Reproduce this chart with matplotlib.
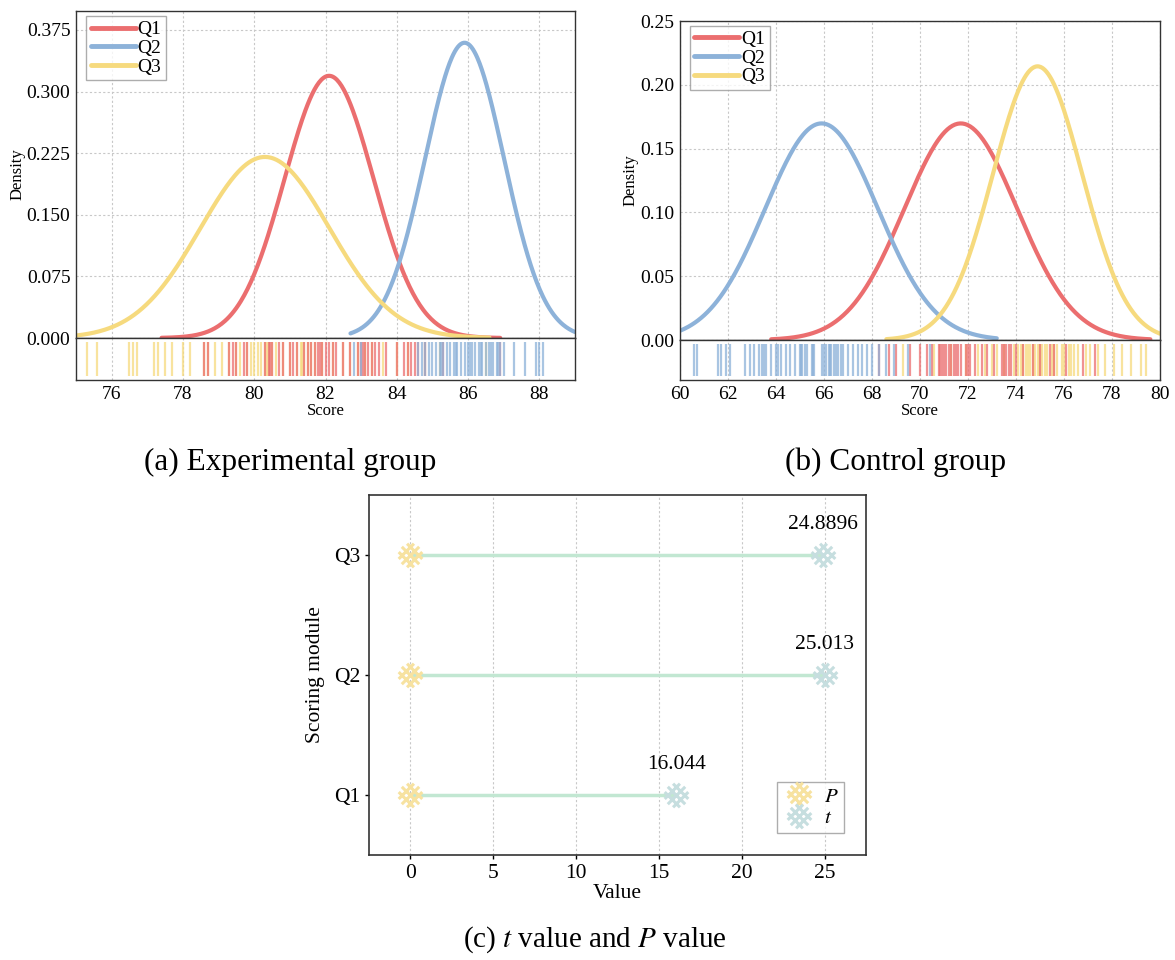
import numpy as np
import matplotlib.pyplot as plt
from matplotlib.path import Path
from matplotlib.lines import Line2D

plt.rcParams['font.family'] = ['Liberation Serif', 'DejaVu Serif']
plt.rcParams['mathtext.fontset'] = 'stix'

# === Data ===
groups = ['Q1', 'Q2', 'Q3']
colors = ['#EB6E6F', '#8DB2D9', '#F6DA7E']

# (a) Experimental group: fitted normal curves (mean, sd, drawn range)
exp_mean = [82.1, 85.9, 80.3]
exp_sd = [1.25, 1.11, 1.81]
exp_lo = [77.4, 82.7, 75.0]
exp_hi = [86.9, 89.0, 86.6]

exp_rug_q1 = [78.6, 78.7, 79.3, 79.4, 79.5, 79.7, 79.8, 80.3, 80.4, 80.45, 80.5, 80.7,
              80.8, 81.0, 81.1, 81.2, 81.4, 81.5, 81.6, 81.7, 81.8, 81.85, 81.9, 82.0,
              82.1, 82.2, 82.3, 82.5, 82.7, 82.9, 83.0, 83.05, 83.1, 83.2, 83.3, 83.4,
              83.5, 83.7, 84.0, 84.2, 84.3, 84.4, 84.5, 84.6, 84.8, 85.3, 86.9]
exp_rug_q2 = [82.8, 83.0, 84.6, 84.7, 84.8, 84.9, 85.0, 85.1, 85.2, 85.25, 85.3, 85.4,
              85.5, 85.6, 85.65, 85.7, 85.8, 85.9, 86.0, 86.05, 86.1, 86.2, 86.3, 86.35,
              86.4, 86.5, 86.6, 86.65, 86.7, 86.8, 86.85, 86.9, 87.0, 87.3, 87.6, 87.9,
              88.0, 88.1]
exp_rug_q3 = [75.3, 75.6, 76.5, 76.6, 76.7, 77.2, 77.3, 77.5, 77.7, 78.0, 78.2, 78.6,
              78.7, 78.9, 79.1, 79.3, 79.5, 79.6, 79.8, 79.9, 80.0, 80.1, 80.2, 80.3,
              80.35, 80.4, 80.5, 80.6, 80.8, 81.0, 81.2, 81.3, 81.35, 81.4, 81.5, 81.6,
              81.7, 81.9, 82.2, 82.5, 82.7, 82.9, 83.1, 83.3, 83.6, 84.0, 84.3, 84.8,
              85.2, 86.5]

# (b) Control group
ctl_mean = [71.7, 65.9, 74.9]
ctl_sd = [2.35, 2.35, 1.86]
ctl_lo = [63.8, 60.0, 68.6]
ctl_hi = [79.6, 73.2, 80.0]

ctl_rug_q1 = [68.3, 68.7, 69.0, 69.6, 70.0, 70.3, 70.5, 70.8, 70.85, 70.9, 71.0, 71.1,
              71.2, 71.3, 71.4, 71.5, 71.6, 71.7, 71.9, 72.0, 72.1, 72.3, 72.6, 72.8,
              73.1, 73.4, 73.5, 73.6, 73.7, 73.8, 74.0, 74.3, 74.7, 75.0, 75.4, 75.6,
              76.1, 76.8, 77.3]
ctl_rug_q2 = [60.6, 60.7, 61.6, 61.7, 61.9, 62.1, 62.7, 62.9, 63.1, 63.3, 63.4, 63.5,
              63.6, 63.8, 64.0, 64.1, 64.2, 64.4, 64.6, 64.8, 65.0, 65.05, 65.1, 65.2,
              65.3, 65.5, 65.55, 65.6, 65.9, 66.0, 66.1, 66.2, 66.25, 66.3, 66.4, 66.5,
              66.6, 66.7, 66.8, 67.0, 67.2, 67.4, 67.6, 67.8, 68.0, 68.3, 68.6, 68.9,
              69.5, 70.4]
ctl_rug_q3 = [69.3, 70.6, 71.3, 71.9, 72.4, 72.7, 73.0, 73.2, 73.5, 73.9, 74.1, 74.2,
              74.3, 74.4, 74.5, 74.6, 74.7, 74.8, 74.9, 75.0, 75.1, 75.2, 75.3, 75.5,
              75.6, 75.7, 75.9, 76.0, 76.2, 76.3, 76.4, 76.6, 76.9, 77.1, 77.4, 77.7,
              78.1, 78.4, 78.8, 79.2, 79.4]

# (c) t value and P value
modules = ['Q1', 'Q2', 'Q3']
p_vals = [0, 0, 0]
t_vals = [16.044, 25.013, 24.8896]
t_text = ['16.044', '25.013', '24.8896']

fig = plt.figure(figsize=(11.75, 9.6), dpi=100)


def lattice_marker(c=0.68):
    # cross-hatched lattice (3 lines each diagonal) inside a unit circle
    verts, codes = [], []
    for s in (1, -1):
        for off in (-c, 0.0, c):
            a, b = 2.0, 2 * s * off
            disc = b * b - 4 * a * (off * off - 1)
            x1 = (-b - np.sqrt(disc)) / (2 * a)
            x2 = (-b + np.sqrt(disc)) / (2 * a)
            verts += [(x1, s * x1 + off), (x2, s * x2 + off)]
            codes += [Path.MOVETO, Path.LINETO]
    return Path(verts, codes)


def density_panel(rect_main, rect_rug, means, sds, lo, hi, rugs, xlim, ylim,
                  xticks, yticks, yfmt):
    ax = fig.add_axes(rect_main)
    axr = fig.add_axes(rect_rug, sharex=ax)
    for i in range(3):
        x = np.linspace(lo[i], hi[i], 300)
        y = np.exp(-0.5 * ((x - means[i]) / sds[i]) ** 2) / (sds[i] * np.sqrt(2 * np.pi))
        ax.plot(x, y, color=colors[i], lw=3, label=groups[i], solid_capstyle='round')
    for i in [2, 0, 1]:
        axr.vlines(rugs[i], 0.1, 0.9, color=colors[i], lw=1.6, alpha=0.75)
    ax.set_xlim(*xlim)
    ax.set_ylim(*ylim)
    axr.set_ylim(0, 1)
    ax.set_yticks(yticks)
    ax.set_yticklabels([yfmt.format(v) for v in yticks])
    axr.set_xticks(xticks)
    axr.set_yticks([])
    ax.tick_params(axis='x', labelbottom=False, length=0)
    ax.tick_params(axis='y', length=0, labelsize=14, pad=4)
    axr.tick_params(axis='x', length=0, labelsize=14, pad=4)
    ax.grid(True, color='#c8c8c8', lw=0.8, ls=(0, (2, 2)))
    axr.grid(True, axis='x', color='#c8c8c8', lw=0.8, ls=(0, (2, 2)))
    axr.set_axisbelow(True)
    for a in (ax, axr):
        for sp in a.spines.values():
            sp.set_color('#333333')
            sp.set_linewidth(1.0)
    ax.set_ylabel('Density', fontsize=12, labelpad=1)
    axr.set_xlabel('Score', fontsize=12, labelpad=0)
    leg = ax.legend(loc='upper left', fontsize=14, handlelength=2.3, handletextpad=0.1,
                    labelspacing=0.05, borderpad=0.25, fancybox=False,
                    bbox_to_anchor=(0.02, 0.985), borderaxespad=0.0)
    leg.get_frame().set_edgecolor('#999999')
    leg.get_frame().set_linewidth(1.0)
    for ln in leg.get_lines():
        ln.set_linewidth(3.5)
    return ax, axr


density_panel([0.0647, 0.6479, 0.4247, 0.3406], [0.0647, 0.6042, 0.4247, 0.0437],
              exp_mean, exp_sd, exp_lo, exp_hi, [exp_rug_q1, exp_rug_q2, exp_rug_q3],
              (75, 89), (0, 0.398), [76, 78, 80, 82, 84, 86, 88],
              [0, 0.075, 0.15, 0.225, 0.3, 0.375], '{:.3f}')

density_panel([0.5787, 0.6458, 0.4085, 0.3323], [0.5787, 0.6042, 0.4085, 0.0416],
              ctl_mean, ctl_sd, ctl_lo, ctl_hi, [ctl_rug_q1, ctl_rug_q2, ctl_rug_q3],
              (60, 80), (0, 0.25), list(range(60, 81, 2)),
              [0, 0.05, 0.1, 0.15, 0.2, 0.25], '{:.2f}')

# === Panel (c) ===
axc = fig.add_axes([0.314, 0.1094, 0.423, 0.375])
ypos = np.arange(1, len(modules) + 1)
mk = lattice_marker()
p_col = '#F7E2A0'
t_col = '#C6DEDF'
line_col = '#C2E7D2'
msz, mw = 17, 2.2
for yi, p, t in zip(ypos, p_vals, t_vals):
    axc.plot([p, t], [yi, yi], color=line_col, lw=2.5, zorder=2)
axc.plot(p_vals, ypos, ls='none', marker=mk, ms=msz, mew=mw, mec=p_col, zorder=3)
axc.plot(t_vals, ypos, ls='none', marker=mk, ms=msz, mew=mw, mec=t_col, zorder=3)
for yi, t, s in zip(ypos, t_vals, t_text):
    axc.annotate(s, (t, yi), xytext=(0, 15), textcoords='offset points',
                 ha='center', va='bottom', fontsize=15.5)
axc.set_xlim(-2.5, 27.5)
axc.set_ylim(0.5, 3.5)
axc.set_yticks(ypos)
axc.set_yticklabels(modules)
axc.set_xticks([0, 5, 10, 15, 20, 25])
axc.tick_params(labelsize=15.5, length=3, width=1, direction='out')
axc.grid(True, axis='x', color='#c8c8c8', lw=0.8, ls=(0, (2, 2)))
axc.set_axisbelow(True)
for sp in axc.spines.values():
    sp.set_color('#333333')
    sp.set_linewidth(1.2)
axc.set_xlabel('Value', fontsize=15.5, labelpad=1)
axc.set_ylabel('Scoring module', fontsize=15.5, labelpad=6)
handles = [Line2D([], [], ls='none', marker=mk, ms=msz, mew=mw, mec=p_col),
           Line2D([], [], ls='none', marker=mk, ms=msz, mew=mw, mec=t_col)]
leg = axc.legend(handles, ['$P$', '$t$'], loc='lower right', fontsize=15,
                 bbox_to_anchor=(0.955, 0.06), borderaxespad=0, fancybox=False,
                 handletextpad=0.4, borderpad=0.25, labelspacing=0.1, handlelength=1.6)
leg.get_frame().set_edgecolor('#999999')
leg.get_frame().set_linewidth(1.0)

# === Captions ===
fig.text(0.247, 0.518, '(a) Experimental group', ha='center', va='center', fontsize=22.5)
fig.text(0.762, 0.518, '(b) Control group', ha='center', va='center', fontsize=22.5)
fig.text(0.506, 0.021, '(c) $t$ value and $P$ value', ha='center', va='center', fontsize=21)

fig.savefig('out.png', dpi=100)
